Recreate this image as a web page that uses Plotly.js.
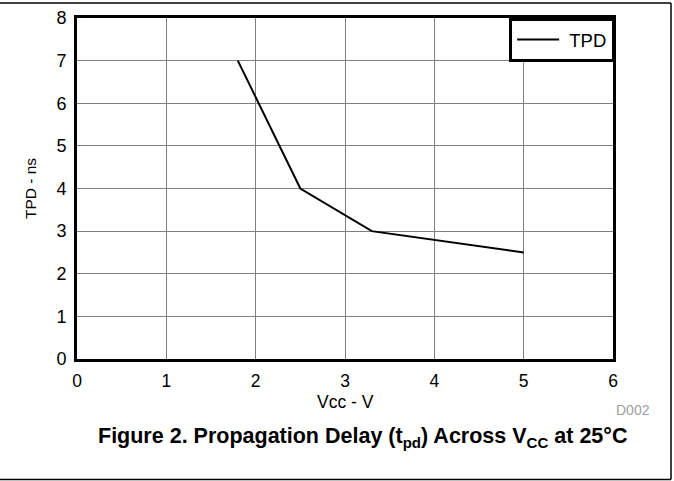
<!DOCTYPE html>
<html><head><meta charset="utf-8">
<script src="https://cdn.plot.ly/plotly-3.0.1.min.js"></script>
<style>html,body{margin:0;padding:0;background:#fff;}#chart{width:674px;height:481px;}</style>
</head><body><div id="chart"></div>
<script>
const vcc = [1.8, 2.5, 3.3, 5];
const tpd = [7, 4, 3, 2.5];
const seriesName = 'TPD';
const xTicks = [0, 1, 2, 3, 4, 5, 6];
const yTicks = [0, 1, 2, 3, 4, 5, 6, 7, 8];

const font = 'Liberation Sans, Arial, sans-serif';
const PW = 536, PH = 341;
const trace = {x: vcc, y: tpd, type: 'scatter', mode: 'lines', name: '\u00a0' + seriesName,
  line: {color: '#000', width: 2}};
const layout = {
  width: 674, height: 481,
  margin: {l: 77, r: 61, t: 18, b: 122},
  paper_bgcolor: '#fff', plot_bgcolor: '#fff',
  font: {family: font, color: '#000', size: 18},
  showlegend: true,
  legend: {x: 1.004, y: 1, xanchor: 'right', yanchor: 'top', bgcolor: '#fff', itemwidth: 42,
    bordercolor: '#000', borderwidth: 3, font: {size: 18.5, family: font}},
  xaxis: {range: [0, 6], tickvals: xTicks, showgrid: true, gridcolor: '#808080', gridwidth: 1,
    showline: true, linecolor: '#000', linewidth: 3, mirror: true, zeroline: false,
    ticks: 'outside', ticklen: 4, tickcolor: 'rgba(0,0,0,0)', tickfont: {size: 17.5}, fixedrange: true},
  yaxis: {range: [0, 8], tickvals: yTicks, showgrid: true, gridcolor: '#808080', gridwidth: 1,
    showline: true, linecolor: '#000', linewidth: 3, mirror: true, zeroline: false,
    ticks: 'outside', ticklen: 4, tickcolor: 'rgba(0,0,0,0)', tickfont: {size: 18}, fixedrange: true,
    title: {text: 'TPD - ns', font: {size: 15.5}, standoff: 16}},
  shapes: [
    {type: 'line', xref: 'paper', yref: 'paper', x0: -77/PW, x1: 594/PW, y0: 356/PH, y1: 356/PH, line: {color: '#000', width: 1.5}},
    {type: 'line', xref: 'paper', yref: 'paper', x0: 594/PW, x1: 594/PW, y0: 356/PH, y1: -120.5/PH, line: {color: '#000', width: 1.5}},
    {type: 'line', xref: 'paper', yref: 'paper', x0: -77/PW, x1: 594/PW, y0: -120.5/PH, y1: -120.5/PH, line: {color: '#000', width: 1.5}}
  ],
  annotations: [
    {xref: 'paper', yref: 'paper', x: 0.5, y: -43/PH, xanchor: 'center', yanchor: 'middle',
      text: 'Vcc - V', showarrow: false, font: {size: 17.5, color: '#000'}},
    {xref: 'paper', yref: 'paper', x: 575/PW, y: -51/PH, xanchor: 'right', yanchor: 'middle',
      text: 'D002', showarrow: false, font: {size: 14, color: '#a0a0a0'}},
    {xref: 'paper', yref: 'paper', x: 285.5/PW, y: -78/PH, xanchor: 'center', yanchor: 'middle',
      text: '<b>Figure 2. Propagation Delay (t<sub>pd</sub>) Across V<sub>CC</sub> at 25°C</b>',
      showarrow: false, font: {size: 21.5, color: '#000'}}
  ]
};
Plotly.newPlot('chart', [trace], layout, {displayModeBar: false, staticPlot: true});
</script></body></html>
